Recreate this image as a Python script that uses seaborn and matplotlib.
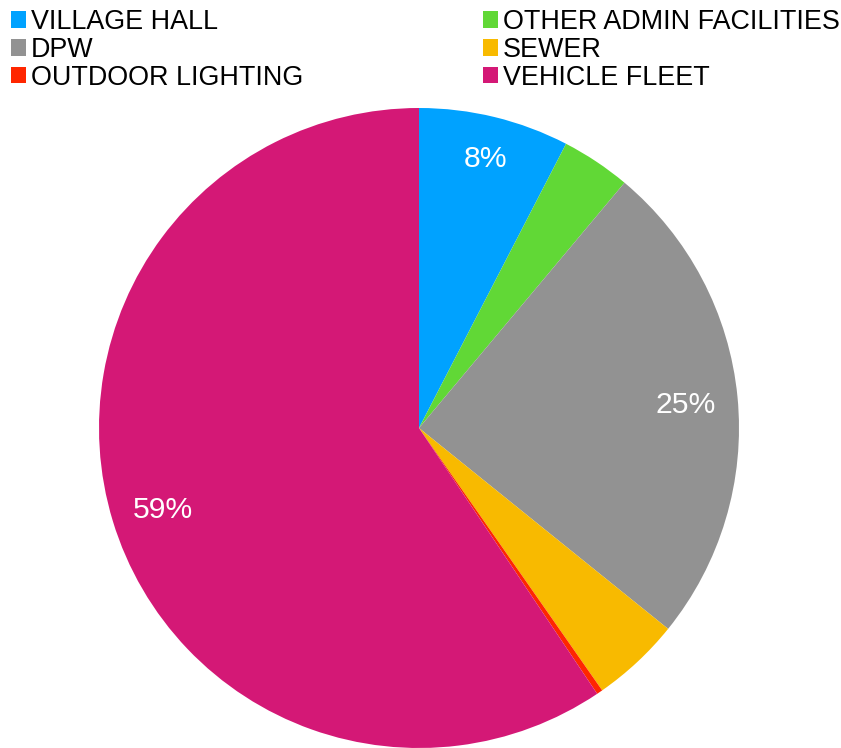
import matplotlib
matplotlib.use("Agg")
import matplotlib.pyplot as plt
from matplotlib.patches import Patch
import seaborn as sns
import numpy as np

categories = ["VILLAGE HALL", "OTHER ADMIN FACILITIES", "DPW", "SEWER",
              "OUTDOOR LIGHTING", "VEHICLE FLEET"]
values = [7.6, 3.5, 24.7, 4.5, 0.3, 59.4]
colors = ["#00A2FF", "#61D836", "#929292", "#F8BA00", "#FF2600", "#D41876"]

sns.set_theme(style="white")
plt.rcParams["font.family"] = ["Liberation Sans", "DejaVu Sans"]
plt.rcParams["text.color"] = "black"

W, H = 841, 748
fig = plt.figure(figsize=(W / 100, H / 100), dpi=100)
cx, cy, r = 419, 428, 320
ax = fig.add_axes([(cx - r) / W, (H - cy - r) / H, 2 * r / W, 2 * r / H])


def fmt(p):
    return f"{p:.0f}%" if p >= 5 else ""


wedges, texts, autotexts = ax.pie(
    values, colors=colors, startangle=90, counterclock=False,
    autopct=fmt, pctdistance=0.838, radius=1,
    textprops=dict(color="white", fontsize=21.7),
    wedgeprops=dict(linewidth=0),
)
# place labels (small wedges sit a little further out)
for w, t, v in zip(wedges, autotexts, values):
    if t.get_text():
        dist = 0.875 if v < 10 else 0.838
        ang = np.deg2rad((w.theta1 + w.theta2) / 2)
        t.set_position((dist * np.cos(ang), dist * np.sin(ang) - 0.011))

ax.set_xlim(-1, 1)
ax.set_ylim(-1, 1)
ax.set_aspect("equal")
ax.axis("off")

# legend in two columns
col1 = [0, 2, 4]
col2 = [1, 3, 5]
common = dict(frameon=False, fontsize=19.4, handlelength=0.56, handleheight=0.56,
              handletextpad=0.18, labelspacing=0.07, borderpad=0, borderaxespad=0,
              labelcolor="black")
for idx, x0 in ((col1, 11), (col2, 483)):
    handles = [Patch(facecolor=colors[i], edgecolor="none") for i in idx]
    labels = [categories[i] for i in idx]
    fig.legend(handles, labels, loc="upper left",
               bbox_to_anchor=(x0 / W, 1 - 9 / H), **common)

fig.savefig("out.png", dpi=100)
